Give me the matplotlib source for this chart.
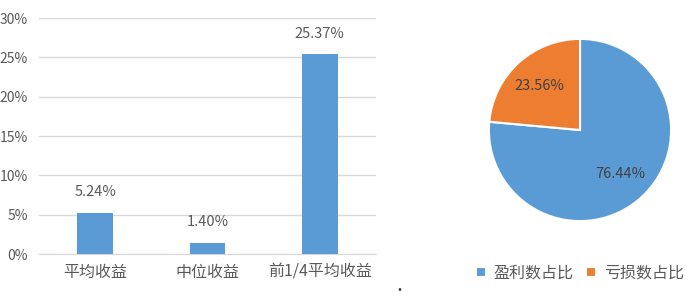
import matplotlib
matplotlib.use("Agg")
import matplotlib.pyplot as plt
from matplotlib.ticker import FuncFormatter

plt.rcParams['font.family'] = ['Noto Sans CJK SC', 'DejaVu Sans']

categories = ['平均收益', '中位收益', '前1/4平均收益']
values = [5.24, 1.40, 25.37]
pie_labels = ['盈利数占比', '亏损数占比']
pie_values = [76.44, 23.56]

blue = '#5B9BD5'
orange = '#ED7D31'
txt = '#595959'

fig = plt.figure(figsize=(6.86, 3.0), dpi=100)
W, H = 686, 300

ax = fig.add_axes([39/W, 1-254/H, (376-39)/W, (254-18)/H])
x = range(len(categories))
ax.bar(x, values, width=0.32, color=blue, zorder=3)
ax.set_xlim(-0.5, 2.5)
ax.set_ylim(0, 30)
ax.set_yticks(range(0, 31, 5))
ax.yaxis.set_major_formatter(FuncFormatter(lambda v, p: f'{int(v)}%'))
ax.set_xticks(list(x))
ax.set_xticklabels(categories)
ax.grid(axis='y', color='#D9D9D9', linewidth=1, zorder=0)
for s in ['top', 'right', 'left']:
    ax.spines[s].set_visible(False)
ax.spines['bottom'].set_color('#D9D9D9')
ax.tick_params(axis='both', length=0, colors=txt)
ax.tick_params(axis='y', labelsize=10, pad=8)
ax.tick_params(axis='x', labelsize=11.5, pad=7)
for xi, v in zip(x, values):
    ax.annotate(f'{v:.2f}%', (xi, v), xytext=(0, 10), textcoords='offset points',
                ha='center', va='bottom', fontsize=10.5, color=txt)

# pie
cx, cy, r = 580, 130, 92
pax = fig.add_axes([(cx-r)/W, 1-(cy+r)/H, 2*r/W, 2*r/H])
wedges, texts, autotexts = pax.pie(pie_values, colors=[blue, orange], startangle=90,
                                   counterclock=False, autopct='%.2f%%', pctdistance=0.66,
                                   wedgeprops=dict(edgecolor='white', linewidth=1.5),
                                   textprops=dict(fontsize=10.5, color='#404040'))
pax.set_xlim(-1.01, 1.01)
pax.set_ylim(-1.01, 1.01)
pax.set_aspect('equal')
pax.legend(wedges, pie_labels, loc='center', bbox_to_anchor=(0.5, (cy+r-273)/(2*r)),
           bbox_transform=pax.transAxes, ncol=2, frameon=False, fontsize=11.5,
           handlelength=0.6, handleheight=0.6, handletextpad=0.5, columnspacing=0.8)
for t in pax.get_legend().get_texts():
    t.set_color(txt)

fig.text(400/W, 1-291/H, '·', fontsize=10, color='#404040', ha='center', va='center')

fig.savefig('out.png', dpi=100)
